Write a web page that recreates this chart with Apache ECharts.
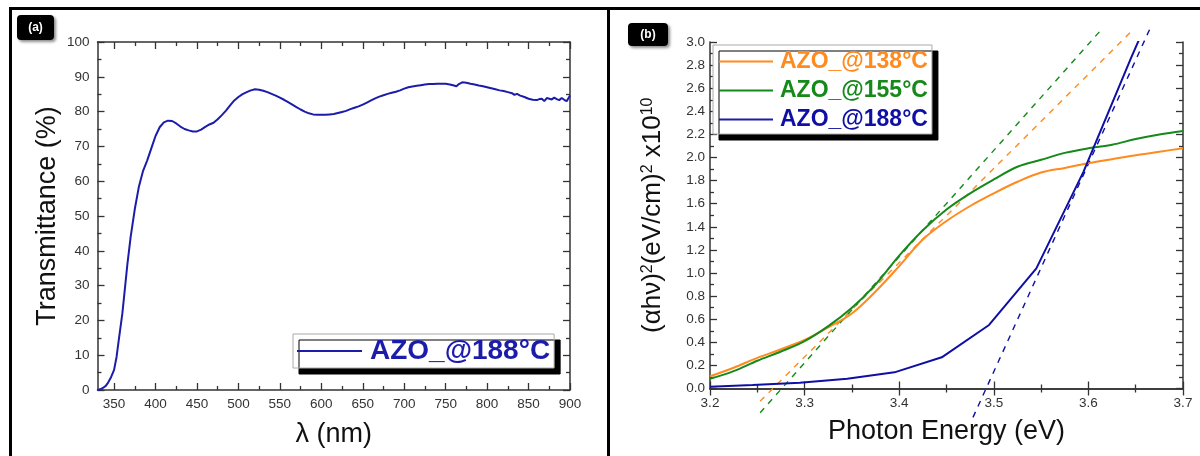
<!DOCTYPE html>
<html>
<head>
<meta charset="utf-8">
<script src="https://cdn.jsdelivr.net/npm/echarts@6/dist/echarts.min.js"></script>
<style>
html,body{margin:0;padding:0;background:#fff;}
#chart{width:1200px;height:456px;}
</style>
</head>
<body>
<div id="chart"></div>
<script>
// ---------- Panel (a): transmittance ----------
const wavelength = [330,333,336,340,343,346,350,353,356,360,363,366,370,375,380,385,390,395,400,405,410,415,420,425,430,435,440,445,450,455,460,465,470,475,480,485,490,495,500,505,510,515,520,525,530,535,540,545,550,555,560,565,570,575,580,585,590,595,600,605,610,615,620,625,630,635,640,645,650,655,660,665,670,675,680,685,690,695,700,705,710,715,720,725,730,735,740,745,750,755,760,763,766,770,775,780,785,790,795,800,805,810,815,820,825,830,833,836,840,845,850,855,860,863,866,869,872,875,878,881,884,887,890,893,896,900];
const transmittance = [0,0.2,0.5,1.2,2.2,3.5,5.8,9.5,15,22,29,36,44,52,58.5,63,66,69.5,73,75.5,76.9,77.4,77.3,76.6,75.7,75,74.6,74.3,74.3,74.8,75.6,76.3,76.8,77.8,79,80.3,81.8,83.2,84.2,85,85.6,86.1,86.4,86.3,86,85.6,85.1,84.6,84,83.4,82.7,82,81.3,80.6,80,79.5,79.2,79.1,79.1,79.1,79.2,79.3,79.6,79.9,80.2,80.7,81.1,81.5,82,82.6,83.2,83.8,84.3,84.7,85.1,85.4,85.7,86.1,86.6,87,87.2,87.4,87.6,87.8,87.9,87.9,88,88,88,87.8,87.5,87.3,87.9,88.4,88.3,88,87.8,87.5,87.3,87,86.7,86.4,86.1,85.9,85.6,85.3,84.8,85.1,84.6,84.2,83.7,83.4,83.3,83.6,83.7,83,83.9,83.7,83.5,84,83.6,83.3,83.9,83.4,83,84.6];
const xTicksA = [350,400,450,500,550,600,650,700,750,800,850,900];
const xMinorA = [375,425,475,525,575,625,675,725,775,825,875];
const nameA = 'AZO_@188°C';

// ---------- Panel (b): Tauc plot ----------
const energy = [3.2,3.225,3.25,3.275,3.3,3.325,3.35,3.375,3.4,3.425,3.45,3.475,3.5,3.525,3.55,3.575,3.6,3.625,3.65,3.675,3.7];
const tauc138 = [0.106,0.18,0.265,0.34,0.42,0.53,0.65,0.84,1.06,1.29,1.45,1.58,1.69,1.79,1.87,1.91,1.95,1.985,2.02,2.05,2.08];
const tauc155 = [0.084,0.15,0.24,0.32,0.41,0.54,0.70,0.90,1.15,1.37,1.55,1.69,1.81,1.92,1.98,2.04,2.08,2.11,2.16,2.20,2.23];
const energy188 = [3.2,3.245,3.295,3.345,3.395,3.445,3.495,3.545,3.595,3.645,3.695];
const tauc188 = [0.015,0.03,0.05,0.085,0.14,0.27,0.55,1.04,1.88,2.86,3.8];
// linear fit lines (two end points each)
const fit138E = [3.253,3.644], fit138V = [-0.11,3.08];
const fit155E = [3.253,3.614], fit155V = [-0.21,3.11];
const fit188E = [3.478,3.667], fit188V = [-0.25,3.15];
const namesB = ['AZO_@138°C','AZO_@155°C','AZO_@188°C'];

const FONT = 'Liberation Sans';
const cOrange = '#ff8a1e', cGreen = '#15891a', cBlue = '#0f0fa5', cBlueA = '#1c1cab';
const zip = (a,b) => a.map((v,i)=>[v,b[i]]);

const axisLineStyle = {show:true, lineStyle:{color:'#333', width:1.5}};
const lbl = {color:'#333', fontSize:13.5, fontFamily:FONT};

const chart = echarts.init(document.getElementById('chart'), null, {renderer:'canvas'});

const option = {
  animation:false,
  backgroundColor:'#fff',
  grid:[
    {left:97.5, right:630, top:42, bottom:66, containLabel:false},
    {left:710, right:17, top:42, bottom:67.5, containLabel:false}
  ],
  xAxis:[
    {type:'value', gridIndex:0, position:'bottom', min:330, max:900,
     axisLine:axisLineStyle,
     axisTick:{show:true, inside:true, length:7, customValues:xTicksA, lineStyle:{color:'#333',width:1.3}},
     axisLabel:Object.assign({customValues:xTicksA, margin:7}, lbl),
     splitLine:{show:false},
     name:'λ (nm)', nameLocation:'middle', nameGap:31,
     nameTextStyle:{fontSize:27, fontFamily:FONT, color:'#111'}},
    {type:'value', gridIndex:0, position:'bottom', min:330, max:900,
     axisLine:{show:false},
     axisTick:{show:true, inside:true, length:4, customValues:xMinorA, lineStyle:{color:'#333',width:1.3}},
     axisLabel:{show:false}, splitLine:{show:false}},
    {type:'value', gridIndex:0, position:'top', min:330, max:900,
     axisLine:axisLineStyle,
     axisTick:{show:true, inside:true, length:7, customValues:xTicksA, lineStyle:{color:'#333',width:1.3}},
     axisLabel:{show:false}, splitLine:{show:false}},
    {type:'value', gridIndex:0, position:'top', min:330, max:900,
     axisLine:{show:false},
     axisTick:{show:true, inside:true, length:4, customValues:xMinorA, lineStyle:{color:'#333',width:1.3}},
     axisLabel:{show:false}, splitLine:{show:false}},
    {type:'value', gridIndex:1, position:'bottom', min:3.2, max:3.7, interval:0.1,
     axisLine:axisLineStyle,
     axisTick:{show:true, inside:true, length:7, lineStyle:{color:'#333',width:1.3}},
     minorTick:{show:true, splitNumber:2, length:4, lineStyle:{color:'#333',width:1.3}},
     axisLabel:Object.assign({margin:8, formatter:v=>v.toFixed(1)}, lbl),
     splitLine:{show:false},
     name:'Photon Energy (eV)', nameLocation:'middle', nameGap:30,
     nameTextStyle:{fontSize:27, fontFamily:FONT, color:'#111'}},
    {type:'value', gridIndex:1, position:'top', min:3.2, max:3.7, interval:0.1,
     axisLine:axisLineStyle,
     axisTick:{show:true, inside:true, length:7, lineStyle:{color:'#333',width:1.3}},
     minorTick:{show:true, splitNumber:2, length:4, lineStyle:{color:'#333',width:1.3}},
     axisLabel:{show:false}, splitLine:{show:false}}
  ],
  yAxis:[
    {type:'value', gridIndex:0, position:'left', min:0, max:100, interval:10,
     axisLine:axisLineStyle,
     axisTick:{show:true, inside:true, length:7, lineStyle:{color:'#333',width:1.3}},
     minorTick:{show:true, splitNumber:2, length:4, lineStyle:{color:'#333',width:1.3}},
     axisLabel:Object.assign({margin:8}, lbl),
     splitLine:{show:false},
     name:'Transmittance (%)', nameLocation:'middle', nameGap:36,
     nameTextStyle:{fontSize:27, fontFamily:FONT, color:'#111'}},
    {type:'value', gridIndex:0, position:'right', min:0, max:100, interval:10,
     axisLine:axisLineStyle,
     axisTick:{show:true, inside:true, length:7, lineStyle:{color:'#333',width:1.3}},
     minorTick:{show:true, splitNumber:2, length:4, lineStyle:{color:'#333',width:1.3}},
     axisLabel:{show:false}, splitLine:{show:false}},
    {type:'value', gridIndex:1, position:'left', min:0, max:3, interval:0.2,
     axisLine:axisLineStyle,
     axisTick:{show:true, inside:true, length:7, lineStyle:{color:'#333',width:1.3}},
     minorTick:{show:true, splitNumber:2, length:4, lineStyle:{color:'#333',width:1.3}},
     axisLabel:Object.assign({margin:5, formatter:v=>v.toFixed(1)}, lbl),
     splitLine:{show:false},
     name:'(αhν){sup|2}(eV/cm){sup|2} x10{sup|10}', nameLocation:'middle', nameGap:44,
     nameTextStyle:{fontSize:26, fontFamily:FONT, color:'#111',
       rich:{sup:{fontSize:16, fontFamily:FONT, color:'#111', verticalAlign:'top'}}}},
    {type:'value', gridIndex:1, position:'right', min:0, max:3, interval:0.2,
     axisLine:axisLineStyle,
     axisTick:{show:true, inside:true, length:7, lineStyle:{color:'#333',width:1.3}},
     minorTick:{show:true, splitNumber:2, length:4, lineStyle:{color:'#333',width:1.3}},
     axisLabel:{show:false}, splitLine:{show:false}}
  ],
  legend:[
    {left:293, top:334, orient:'vertical', selectedMode:false, icon:'rect',
     data:[{name:nameA, textStyle:{color:cBlueA}}],
     itemWidth:65, itemHeight:2, padding:[3,4,3,4],
     backgroundColor:'#fff', borderColor:'#aaa', borderWidth:1,
     shadowColor:'#000', shadowBlur:0, shadowOffsetX:6, shadowOffsetY:6,
     textStyle:{fontSize:28, fontWeight:'bold', fontFamily:FONT, padding:[0,0,0,3]}},
    {left:713, top:45, orient:'vertical', selectedMode:false, icon:'rect',
     data:[{name:namesB[0], textStyle:{color:cOrange}},
           {name:namesB[1], textStyle:{color:cGreen}},
           {name:namesB[2], textStyle:{color:cBlue}}],
     itemWidth:54, itemHeight:2, itemGap:6, padding:[5,4,3,6],
     backgroundColor:'#fff', borderColor:'#aaa', borderWidth:1,
     shadowColor:'#000', shadowBlur:0, shadowOffsetX:6, shadowOffsetY:6,
     textStyle:{fontSize:23, fontWeight:'bold', fontFamily:FONT, padding:[0,0,0,2]}}
  ],
  series:[
    {name:nameA, type:'line', xAxisIndex:0, yAxisIndex:0, data:zip(wavelength, transmittance),
     symbol:'none', lineStyle:{color:cBlueA, width:2}, itemStyle:{color:cBlueA}},
    {name:'fit138', type:'line', xAxisIndex:4, yAxisIndex:2, data:zip(fit138E, fit138V), clip:false,
     symbol:'none', lineStyle:{color:cOrange, width:1.4, type:[6,6]}, z:1},
    {name:'fit155', type:'line', xAxisIndex:4, yAxisIndex:2, data:zip(fit155E, fit155V), clip:false,
     symbol:'none', lineStyle:{color:cGreen, width:1.4, type:[6,6]}, z:1},
    {name:'fit188', type:'line', xAxisIndex:4, yAxisIndex:2, data:zip(fit188E, fit188V), clip:false,
     symbol:'none', lineStyle:{color:cBlue, width:1.4, type:[6,6]}, z:1},
    {name:namesB[0], type:'line', xAxisIndex:4, yAxisIndex:2, data:zip(energy, tauc138), smooth:0.35,
     symbol:'none', lineStyle:{color:cOrange, width:2}, itemStyle:{color:cOrange}, z:3},
    {name:namesB[1], type:'line', xAxisIndex:4, yAxisIndex:2, data:zip(energy, tauc155), smooth:0.35,
     symbol:'none', lineStyle:{color:cGreen, width:2}, itemStyle:{color:cGreen}, z:3},
    {name:namesB[2], type:'line', xAxisIndex:4, yAxisIndex:2, data:zip(energy188, tauc188), clip:true,
     symbol:'none', lineStyle:{color:cBlue, width:2}, itemStyle:{color:cBlue}, z:3}
  ],
  graphic:[
    {type:'line', shape:{x1:9, y1:8.5, x2:1200, y2:8.5}, style:{stroke:'#000', lineWidth:3}, z:100},
    {type:'line', shape:{x1:10.5, y1:8, x2:10.5, y2:456}, style:{stroke:'#000', lineWidth:3}, z:100},
    {type:'line', shape:{x1:608.5, y1:8, x2:608.5, y2:456}, style:{stroke:'#000', lineWidth:3}, z:100},
    {type:'group', left:17, top:15, z:100, children:[
      {type:'rect', shape:{x:0, y:0, width:37, height:25, r:4},
       style:{fill:'#000', shadowBlur:3, shadowColor:'rgba(0,0,0,0.45)', shadowOffsetX:2, shadowOffsetY:2}},
      {type:'text', x:18.5, y:12.5, style:{text:'(a)', fill:'#fff', font:'bold 12px "Liberation Sans"', align:'center', verticalAlign:'middle'}}
    ]},
    {type:'group', left:628, top:23, z:100, children:[
      {type:'rect', shape:{x:0, y:0, width:40, height:23, r:4},
       style:{fill:'#000', shadowBlur:3, shadowColor:'rgba(0,0,0,0.45)', shadowOffsetX:2, shadowOffsetY:2}},
      {type:'text', x:20, y:11.5, style:{text:'(b)', fill:'#fff', font:'bold 12px "Liberation Sans"', align:'center', verticalAlign:'middle'}}
    ]}
  ]
};
chart.setOption(option);
</script>
</body>
</html>
